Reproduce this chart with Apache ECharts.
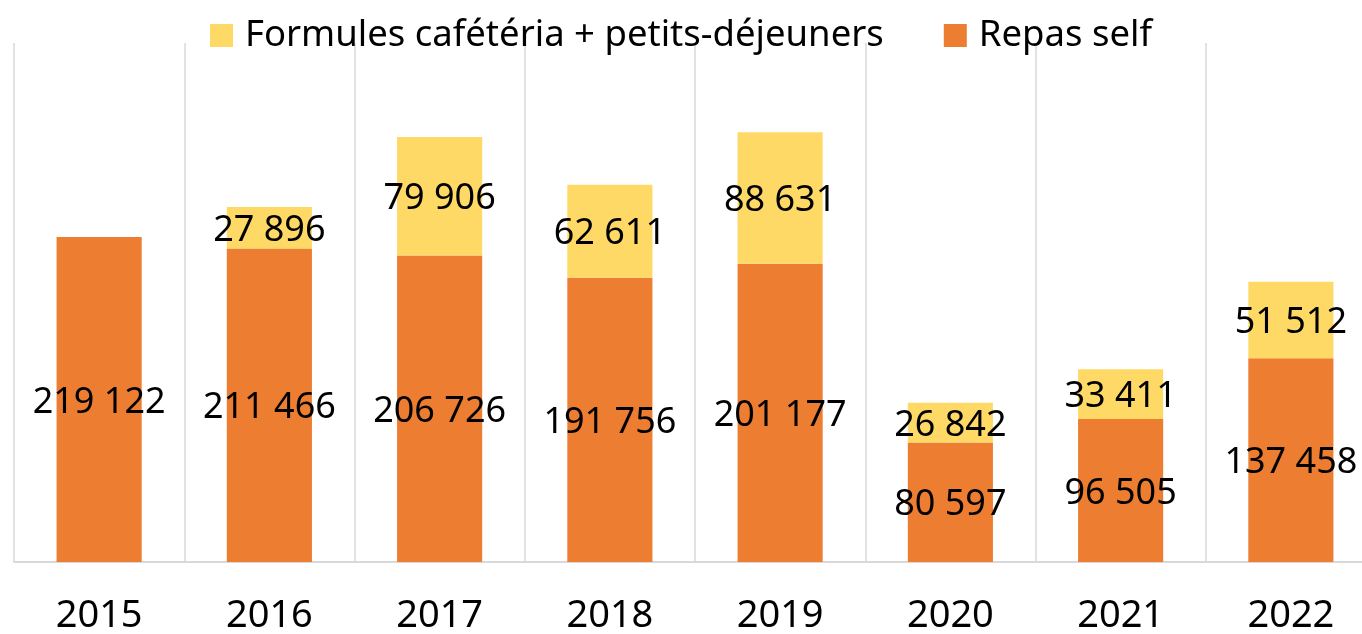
<!DOCTYPE html>
<html>
<head>
<meta charset="utf-8">
<script src="https://cdn.jsdelivr.net/npm/echarts@6/dist/echarts.min.js"></script>
<style>
  html, body { margin: 0; padding: 0; background: #fff; }
  #chart { width: 1362px; height: 634px; }
</style>
</head>
<body>
<div id="chart"></div>
<script>
// données
const years = ['2015', '2016', '2017', '2018', '2019', '2020', '2021', '2022'];
const repasSelf = [219122, 211466, 206726, 191756, 201177, 80597, 96505, 137458];
const formules = [null, 27896, 79906, 62611, 88631, 26842, 33411, 51512];

const fmt = (v) => String(v).replace(/\B(?=(\d{3})+(?!\d))/g, ' ');

const myChart = echarts.init(document.getElementById('chart'));

const labelStyle = {
    show: true,
    position: 'inside',
    color: '#000',
    fontFamily: 'Noto Sans',
    fontSize: 36,
    offset: [0, 3],
    formatter: (p) => fmt(p.value)
};

const option = {
    animation: false,
    legend: {
        top: 12,
        left: 'center',
        itemWidth: 23,
        itemHeight: 23,
        itemGap: 60,
        icon: 'rect',
        textStyle: { fontFamily: 'Noto Sans', fontSize: 36.5, color: '#000', padding: [0, 0, 0, 7] },
        data: ['Formules cafétéria + petits-déjeuners', 'Repas self']
    },
    grid: { left: 14, width: 1362, top: 43, bottom: 72, outerBoundsMode: 'none', containLabel: false },
    xAxis: {
        type: 'category',
        data: years,
        axisLine: { lineStyle: { color: '#d9d9d9', width: 2 } },
        axisTick: { show: false },
        splitLine: { show: true, lineStyle: { color: '#d9d9d9', width: 1.5 } },
        axisLabel: { color: '#000', fontFamily: 'Noto Sans', fontSize: 38, margin: 35 }
    },
    yAxis: {
        type: 'value',
        min: 0,
        max: 350000,
        show: false,
        splitLine: { show: false }
    },
    series: [
        {
            name: 'Repas self',
            type: 'bar',
            stack: 'total',
            barWidth: '50%',
            itemStyle: { color: '#ed7d31' },
            label: labelStyle,
            data: repasSelf
        },
        {
            name: 'Formules cafétéria + petits-déjeuners',
            type: 'bar',
            stack: 'total',
            barWidth: '50%',
            itemStyle: { color: '#ffd966' },
            label: labelStyle,
            data: formules
        }
    ]
};

myChart.setOption(option);
</script>
</body>
</html>
